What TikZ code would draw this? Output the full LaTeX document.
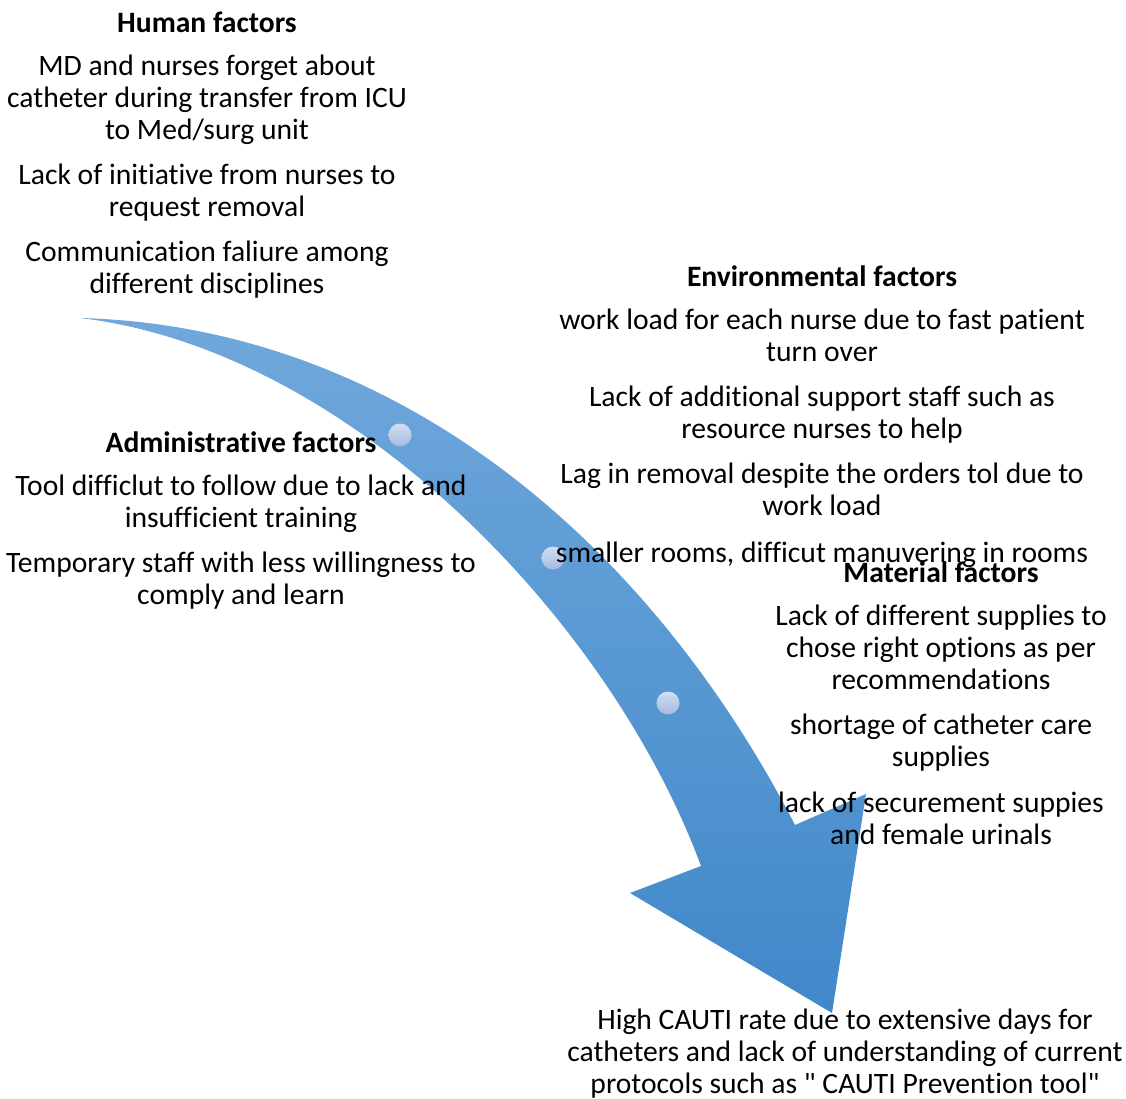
\documentclass[tikz,border=0pt]{standalone}
\usepackage{fontspec}
\setmainfont{Carlito}[Ligatures={TeXOff,NoCommon}]
\definecolor{arrtop}{RGB}{112,168,220}
\definecolor{arrbot}{RGB}{64,136,201}
\definecolor{dottop}{RGB}{210,222,242}
\definecolor{dotbot}{RGB}{165,186,222}
\begin{document}
\begin{tikzpicture}[x=1pt,y=-1pt,
  txt/.style={font=\fontsize{29.6}{32}\selectfont, align=center, inner sep=0pt, anchor=north, execute at begin node=\strut},
  head/.style={txt, font=\fontsize{29.6}{32}\selectfont\bfseries},
  dotball/.style={top color=dottop, bottom color=dotbot, draw=none}]
\useasboundingbox (0,0) rectangle (1126,1099);
% arrow
\shade[top color=arrtop, bottom color=arrbot]
  (80,318) .. controls (390,326) and (645,535) .. (795,825)
  -- (866,794) -- (832,1013) -- (630,893) -- (701,866)
  .. controls (610,620) and (350,350) .. (80,318) -- cycle;
% dots
\shade[dotball] (400,435) circle (11.5);
\shade[dotball] (553,558) circle (11.5);
\shade[dotball] (668,703) circle (11.5);
% Human factors
\node[head] (h0) at (207,10) {Human factors};
\node[txt] (h1) at (207,55) {MD and nurses forget about\\catheter during transfer from ICU\\to Med/surg unit};
\node[txt] (h2) at (207,164) {Lack of initiative from nurses to\\request removal};
\node[txt] (h3) at (207,241) {Communication faliure among\\different disciplines};
% Administrative
\node[head] (a0) at (241,430) {Administrative factors};
\node[txt] (a1) at (241,475) {Tool difficlut to follow due to lack and\\insufficient training};
\node[txt] (a2) at (241,552) {Temporary staff with less willingness to\\comply and learn};
% Environmental
\node[head] (e0) at (822,264) {Environmental factors};
\node[txt] (e1) at (822,309) {work load for each nurse due to fast patient\\turn over};
\node[txt] (e2) at (822,386) {Lack of additional support staff such as\\resource nurses to help};
\node[txt] (e3) at (822,463) {Lag in removal despite the orders tol due to\\work load};
\node[txt] (e4) at (822,540) {smaller rooms, difficut manuvering in rooms};
% Material
\node[head] (m0) at (941,560) {Material factors};
\node[txt] (m1) at (941,605) {Lack of different supplies to\\chose right options as per\\recommendations};
\node[txt] (m2) at (941,714) {shortage of catheter care\\supplies};
\node[txt] (m3) at (941,792) {lack of securement suppies\\and female urinals};
% Result
\node[txt] (r) at (845,1009) {High CAUTI rate due to extensive days for\\catheters and lack of understanding of current\\protocols such as " CAUTI Prevention tool"};
\end{tikzpicture}
\end{document}
